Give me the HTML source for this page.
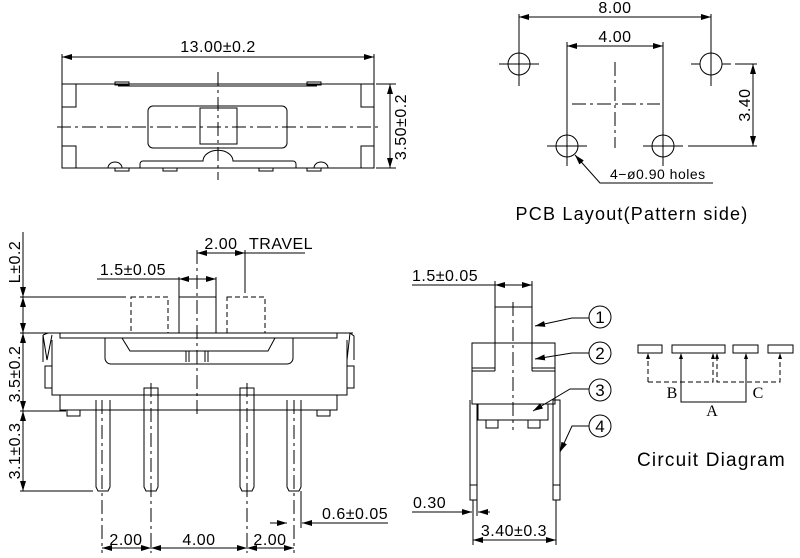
<!DOCTYPE html>
<html><head><meta charset="utf-8"><style>
html,body{margin:0;padding:0;background:#fff;}
svg{display:block;}
text{font-family:"Liberation Sans",sans-serif;fill:#000;}
.s{font-family:"Liberation Serif",serif;}
</style></head><body>
<svg width="800" height="558" viewBox="0 0 800 558" xmlns="http://www.w3.org/2000/svg">
<defs>
<marker id="a" viewBox="0 0 10 6" refX="10" refY="3" markerWidth="10" markerHeight="6" orient="auto-start-reverse" markerUnits="userSpaceOnUse"><path d="M0,0 L10,3 L0,6 z" fill="#000"/></marker>
</defs>
<g fill="none" stroke="#000" stroke-width="1">
<!-- TOP VIEW -->
<line x1="62" y1="57" x2="374" y2="57" marker-start="url(#a)" marker-end="url(#a)"/>
<line x1="62" y1="54" x2="62" y2="84"/><line x1="374" y1="54" x2="374" y2="84"/>
<rect x="62" y="84" width="312" height="84"/>
<path d="M62,107 H76 V84 M62,146 H76 V168 M374,107 H361 V84 M374,146 H361 V168"/>
<path d="M118,86 H317"/><rect x="115" y="82" width="14" height="3"/><rect x="307" y="82" width="14" height="3"/>
<rect x="148" y="106" width="139" height="42" rx="5"/>
<rect x="200" y="108" width="37" height="36"/>
<path d="M108,168 a7,6 0 0 1 14,0 M115,168 v3 h14 v-3 M140,168 v-4 a3,3 0 0 1 3,-3 h60 a14,10 0 0 1 30,0 h60 a3,3 0 0 1 3,3 v4 M163,168 v3 h14 v-3 M259,168 v3 h14 v-3 M307,168 v3 h14 v-3 M314,168 a7,6 0 0 1 14,0"/>
<line x1="57" y1="127" x2="380" y2="127" stroke-dasharray="14,4,3,4"/>
<line x1="218" y1="72" x2="218" y2="180" stroke-dasharray="14,4,3,4"/>
<line x1="376" y1="84" x2="396" y2="84"/><line x1="376" y1="168" x2="396" y2="168"/>
<line x1="390" y1="84" x2="390" y2="168" marker-start="url(#a)" marker-end="url(#a)"/>

<!-- PCB -->
<line x1="519" y1="17" x2="711" y2="17" marker-start="url(#a)" marker-end="url(#a)"/>
<line x1="519" y1="14" x2="519" y2="86"/><line x1="711" y1="14" x2="711" y2="86"/>
<line x1="567" y1="46" x2="663" y2="46" marker-start="url(#a)" marker-end="url(#a)"/>
<line x1="567" y1="42" x2="567" y2="166"/><line x1="663" y1="42" x2="663" y2="166"/>
<circle cx="519" cy="64" r="11"/><circle cx="711" cy="64" r="11"/><circle cx="567" cy="146" r="11"/><circle cx="663" cy="146" r="11"/>
<path d="M499,64 H539 M691,64 H700 M722,64 H731 M547,146 H587 M643,146 H683"/>
<path d="M519,74 V86 M711,74 V86"/>
<line x1="615" y1="62" x2="615" y2="148" stroke-dasharray="14,4,3,4"/>
<line x1="572" y1="104" x2="660" y2="104" stroke-dasharray="14,4,3,4"/>
<line x1="735" y1="64" x2="757" y2="64"/><line x1="688" y1="146" x2="757" y2="146"/>
<line x1="753" y1="64" x2="753" y2="146" marker-start="url(#a)" marker-end="url(#a)"/>
<path d="M713,183 H600 L575,155" marker-end="url(#a)"/>

<!-- FRONT VIEW -->
<line x1="23" y1="232" x2="23" y2="297" marker-end="url(#a)"/>
<line x1="23" y1="297" x2="23" y2="333" marker-start="url(#a)" marker-end="url(#a)"/>
<line x1="23" y1="333" x2="23" y2="411" marker-start="url(#a)" marker-end="url(#a)"/>
<line x1="23" y1="411" x2="23" y2="491" marker-start="url(#a)" marker-end="url(#a)"/>
<path d="M20,297 H126 M20,333 H45 M20,411 H66 M20,491 H93"/>
<g stroke-dasharray="5,3"><rect x="131" y="297" width="37" height="36"/><rect x="227" y="297" width="38" height="36"/></g>
<rect x="179" y="297" width="37" height="36"/>
<line x1="97" y1="279" x2="179" y2="279"/><line x1="179" y1="279" x2="216" y2="279" marker-start="url(#a)" marker-end="url(#a)"/>
<line x1="179" y1="277" x2="179" y2="297"/><line x1="216" y1="277" x2="216" y2="297"/>
<line x1="197" y1="253" x2="245" y2="253" marker-start="url(#a)" marker-end="url(#a)"/>
<line x1="245" y1="250" x2="245" y2="293"/><line x1="245" y1="253" x2="305" y2="253"/>
<line x1="197" y1="250" x2="197" y2="416" stroke-dasharray="14,4,3,4"/>
<path d="M45,333 H353 M43,335 l5,-2 M60,333 V338 H337 V333"/>
<path d="M43,335 L47,360 L52,335 M43,335 V362 M350,333 L354,336 V360 M350,333 L347,360"/>
<path d="M52,340 V395 H347 V340 M45,366 H52 V388 H45 Z M354,366 H347 V388 H354 Z"/>
<path d="M60,395 V410 H337 V395 M67,410 V416 H80 V410 M317,410 V416 H330 V410"/>
<path d="M105,338 V358 a6,6 0 0 0 6,6 H287 a6,6 0 0 0 6,-6 V338"/>
<path d="M122,338 L130,351 H268 L275,338"/>
<path d="M186,351 V362 M208,351 V362 M189,351 V362 M205,351 V362"/>
<path d="M96,400 V487 L98,491 H108 L110,487 V400"/>
<path d="M144,388 V487 L146,491 H156 L158,487 V388 Z"/>
<path d="M240,388 V487 L242,491 H252 L254,487 V388 Z"/>
<path d="M287,400 V487 L289,491 H299 L301,487 V400"/>
<g stroke-dasharray="14,4,3,4"><line x1="102" y1="400" x2="102" y2="553"/><line x1="151" y1="383" x2="151" y2="553"/><line x1="247" y1="383" x2="247" y2="553"/><line x1="294" y1="400" x2="294" y2="553"/></g>
<line x1="102" y1="548" x2="151" y2="548" marker-start="url(#a)" marker-end="url(#a)"/>
<line x1="151" y1="548" x2="247" y2="548" marker-start="url(#a)" marker-end="url(#a)"/>
<line x1="247" y1="548" x2="294" y2="548" marker-start="url(#a)" marker-end="url(#a)"/>
<line x1="301" y1="491" x2="301" y2="528"/>
<line x1="270" y1="523" x2="287" y2="523" marker-end="url(#a)"/>
<line x1="388" y1="523" x2="302" y2="523" marker-end="url(#a)"/>

<!-- SIDE VIEW -->
<line x1="412" y1="285" x2="495" y2="285"/><line x1="495" y1="285" x2="532" y2="285" marker-start="url(#a)" marker-end="url(#a)"/>
<line x1="495" y1="281" x2="495" y2="307"/><line x1="532" y1="281" x2="532" y2="307"/>
<rect x="495" y="307" width="37" height="36"/>
<path d="M472,343 H555 V404 H472 Z M472,368 H495 M532,368 H555 M472,371 H495 M532,371 H555 M495,343 V371 M532,343 V371"/>
<path d="M478,404 V420 H548 V404 M486,420 V428 H498 V420 M528,420 V428 H540 V420"/>
<path d="M470,400 V500 H477 V404 M470,485 H477 M553,404 V400 H560 V500 H553 V404 M553,485 H560"/>
<line x1="513" y1="302" x2="513" y2="430" stroke-dasharray="14,4,3,4"/>
<line x1="473" y1="500" x2="473" y2="545"/><line x1="477" y1="500" x2="477" y2="516"/><line x1="556" y1="500" x2="556" y2="545"/>
<line x1="412" y1="512" x2="472" y2="512" marker-end="url(#a)"/>
<line x1="490" y1="512" x2="478" y2="512" marker-end="url(#a)"/>
<line x1="473" y1="540" x2="556" y2="540" marker-start="url(#a)" marker-end="url(#a)"/>
<circle cx="600" cy="317" r="11"/><circle cx="600" cy="353" r="11"/><circle cx="600" cy="390" r="11"/><circle cx="600" cy="426" r="11"/>
<path d="M589,318 H572 L535,326" marker-end="url(#a)"/>
<path d="M589,353 H572 L535,359" marker-end="url(#a)"/>
<path d="M589,389 H570 L533,411" marker-end="url(#a)"/>
<path d="M589,426 H572 L560,452" marker-end="url(#a)"/>

<!-- CIRCUIT -->
<rect x="638" y="345" width="24" height="8"/><rect x="672" y="345" width="53" height="8"/><rect x="733" y="345" width="25" height="8"/><rect x="768" y="345" width="25" height="8"/>
<g stroke-dasharray="5,3"><path d="M648,382 V356 M648,382 H713 V356 M717,356 V382 H780 V356"/></g>
<path d="M681,356 V402 H746 V356"/>
<g fill="#000" stroke="none"><path d="M648,353 l-2,6 h4z M681,353 l-2,6 h4z M713,353 l-2,6 h4z M717,353 l-2,6 h4z M746,353 l-2,6 h4z M780,353 l-2,6 h4z"/></g>
</g>
<g font-size="16" letter-spacing="0.5">
<text x="218" y="52" text-anchor="middle">13.00±0.2</text>
<text transform="translate(406,127) rotate(-90)" text-anchor="middle">3.50±0.2</text>
<text x="615" y="13" text-anchor="middle">8.00</text>
<text x="615" y="42" text-anchor="middle">4.00</text>
<text transform="translate(750,105) rotate(-90)" text-anchor="middle">3.40</text>
<text x="610" y="179" font-size="14">4−ø0.90  holes</text>
<text x="632" y="220" font-size="18" text-anchor="middle" letter-spacing="1.2">PCB  Layout(Pattern  side)</text>
<text transform="translate(20,262) rotate(-90)" text-anchor="middle">L±0.2</text>
<text transform="translate(20,374) rotate(-90)" text-anchor="middle">3.5±0.2</text>
<text transform="translate(20,451) rotate(-90)" text-anchor="middle">3.1±0.3</text>
<text x="133" y="275" text-anchor="middle">1.5±0.05</text>
<text x="221" y="249" text-anchor="middle">2.00</text>
<text x="249" y="249">TRAVEL</text>
<text x="126" y="545" text-anchor="middle">2.00</text>
<text x="199" y="545" text-anchor="middle">4.00</text>
<text x="270" y="545" text-anchor="middle">2.00</text>
<text x="322" y="519">0.6±0.05</text>
<text x="412" y="281">1.5±0.05</text>
<text x="413" y="508">0.30</text>
<text x="514" y="536" text-anchor="middle">3.40±0.3</text>
<text x="600" y="323" text-anchor="middle" font-size="17" letter-spacing="0">1</text>
<text x="600" y="359" text-anchor="middle" font-size="17" letter-spacing="0">2</text>
<text x="600" y="396" text-anchor="middle" font-size="17" letter-spacing="0">3</text>
<text x="600" y="432" text-anchor="middle" font-size="17" letter-spacing="0">4</text>
<text class="s" x="672" y="398" text-anchor="middle" letter-spacing="0">B</text>
<text class="s" x="758" y="398" text-anchor="middle" letter-spacing="0">C</text>
<text class="s" x="712" y="416" text-anchor="middle" letter-spacing="0">A</text>
<text x="637" y="466" font-size="19" letter-spacing="1.2">Circuit  Diagram</text>
</g>
</svg>
</body></html>
